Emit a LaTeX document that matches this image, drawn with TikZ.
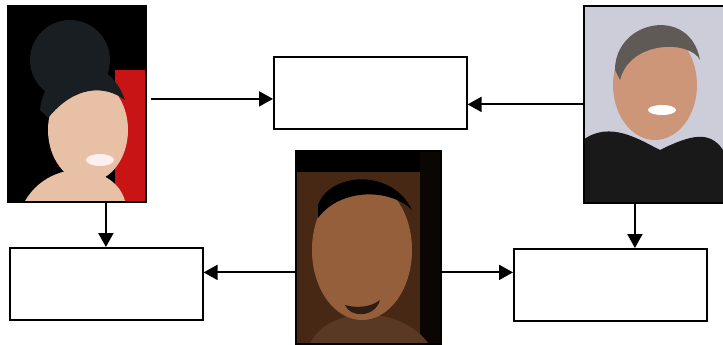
\documentclass[tikz,border=0pt]{standalone}
\usetikzlibrary{arrows.meta,calc}
\definecolor{skinA}{RGB}{232,192,165}
\definecolor{redA}{RGB}{200,20,20}
\definecolor{hairA}{RGB}{25,30,35}
\definecolor{bgB}{RGB}{70,40,20}
\definecolor{skinB}{RGB}{150,95,60}
\definecolor{bgC}{RGB}{205,205,218}
\definecolor{skinC}{RGB}{205,150,120}
\definecolor{hairC}{RGB}{95,90,85}
\tikzset{
  photo/.style={draw=black,line width=1.8pt,minimum width=#1,anchor=north west,inner sep=0pt},
  textbox/.style={draw=black,line width=1.6pt,fill=white,minimum width=193pt,minimum height=72pt,anchor=north west,inner sep=0pt},
  arr/.style={line width=2pt,-{Triangle[length=14pt,width=15pt]}}
}
\begin{document}
\begin{tikzpicture}[x=1pt,y=-1pt]
\useasboundingbox[fill=white] (0,0) rectangle (723,345);
% ---- left photo content
\begin{scope}
\clip (7,5) rectangle (145,201);
\fill[black] (7,5) rectangle (145,201);
\fill[redA] (115,70) rectangle (145,201);
\fill[hairA] (70,60) ellipse (40 and 40);
\fill[skinA] (25,201) .. controls (40,175) and (70,165) .. (95,172) .. controls (115,180) and (122,190) .. (125,201) -- cycle;
\fill[skinA] (88,130) ellipse (40 and 52);
\fill[hairA] (40,110) .. controls (45,60) and (105,45) .. (125,100) .. controls (105,85) and (75,85) .. (48,118) -- cycle;
\fill[white!75!pink] (100,160) ellipse (14 and 6);
\end{scope}
\node[photo=138pt,minimum height=196pt] (pA) at (7,5) {};
% ---- middle photo content
\begin{scope}
\clip (295,150) rectangle (440,343);
\fill[bgB] (295,150) rectangle (440,343);
\fill[black] (295,150) rectangle (440,172);
\fill[black!85!bgB] (420,150) rectangle (440,343);
\fill[skinB!60!black] (310,343) .. controls (330,305) and (400,305) .. (428,343) -- cycle;
\fill[skinB] (362,250) ellipse (50 and 70);
\fill[black] (318,205) .. controls (330,172) and (392,168) .. (412,210) .. controls (390,188) and (340,188) .. (318,218) -- cycle;
\fill[black!70!skinB] (345,305) .. controls (350,318) and (375,318) .. (380,300) .. controls (370,308) and (355,308) .. (345,305) -- cycle;
\end{scope}
\node[photo=145pt,minimum height=193pt] (pB) at (295,150) {};
% ---- right photo content
\begin{scope}
\clip (583,5) rectangle (723,202);
\fill[bgC] (583,5) rectangle (723,202);
\fill[black!90] (583,202) -- (583,140) .. controls (610,120) and (640,140) .. (660,150) .. controls (690,135) and (710,130) .. (723,150) -- (723,202) -- cycle;
\fill[skinC] (655,85) ellipse (42 and 55);
\fill[hairC] (615,70) .. controls (615,20) and (690,5) .. (700,60) .. controls (690,40) and (630,40) .. (620,80) -- cycle;
\fill[white] (662,110) ellipse (14 and 5);
\end{scope}
\node[photo=140pt,minimum height=197pt] (pC) at (583,5) {};
% ---- text boxes
\node[textbox] (top) at (273,56) {};
\node[textbox] (bl) at (9,247) {};
\node[textbox] (br) at (513,248) {};
% ---- connectors
\coordinate (a1) at ([xshift=4pt,yshift=5pt]pA.east);
\draw[arr] (a1) -- (a1 -| top.west);
\draw[arr] (pC.west) -- (pC.west -| top.east);
\coordinate (a2) at ([xshift=29pt]pA.south);
\draw[arr] (a2) -- (a2 |- bl.north);
\coordinate (a3) at ([xshift=-19pt]pC.south);
\draw[arr] (a3) -- (a3 |- br.north);
\coordinate (a4) at ([yshift=-25pt]pB.west);
\draw[arr] (a4) -- (a4 -| bl.east);
\coordinate (a5) at ([yshift=-25pt]pB.east);
\draw[arr] (a5) -- (a5 -| br.west);
\end{tikzpicture}
\end{document}
